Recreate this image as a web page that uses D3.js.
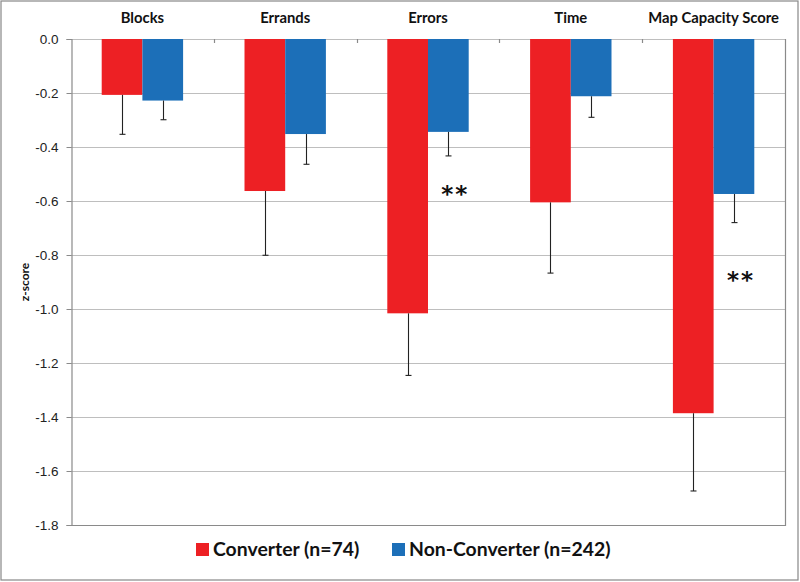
<!DOCTYPE html>
<html><head><meta charset="utf-8">
<script src="https://cdn.jsdelivr.net/npm/d3@7"></script>
<style>body{margin:0;background:#fff}svg{display:block}text{font-family:Lato,"Open Sans",sans-serif}</style>
</head><body>
<script>
const categories = ["Blocks","Errands","Errors","Time","Map Capacity Score"];
const seriesNames = ["Converter (n=74)","Non-Converter (n=242)"];
const converter = [-0.207,-0.563,-1.016,-0.605,-1.386];
const converterErr = [0.146,0.238,0.230,0.262,0.288];
const nonConverter = [-0.228,-0.352,-0.344,-0.212,-0.574];
const nonConverterErr = [0.071,0.112,0.089,0.078,0.106];
const significance = ["","","**","","**"];
const significanceLevel = [null,null,-0.56,null,-0.878];
const yTicks = [0,-0.2,-0.4,-0.6,-0.8,-1.0,-1.2,-1.4,-1.6,-1.8];
const colors = ["#ED2024","#1C6FB8"];

const W=800,H=582;
const L=71,R=785,T=39,B=525;
const svg=d3.select("body").append("svg").attr("width",W).attr("height",H);
svg.append("rect").attr("x",1).attr("y",1).attr("width",797).attr("height",579).attr("fill","#fff").attr("stroke","#888").attr("stroke-width",1.2);

const y=d3.scaleLinear().domain([-1.8,0]).range([B,T]);
const x0=d3.scaleBand().domain(categories).range([L,R]).paddingInner(0.43).paddingOuter(0.215);
const x1=d3.scaleBand().domain([0,1]).range([0,x0.bandwidth()]);
const xc=d3.scaleBand().domain(categories).range([L,R]);

// gridlines
svg.append("g").selectAll("line").data(yTicks).join("line")
  .attr("x1",L).attr("x2",R).attr("y1",d=>Math.round(y(d))+0.5).attr("y2",d=>Math.round(y(d))+0.5)
  .attr("stroke","#BEBEBE").attr("stroke-width",1.2);
// plot border right/bottom
svg.append("path").attr("d",`M${L},${B+0.5}H${R+0.5}V${T}`).attr("fill","none").attr("stroke","#8a8a8a").attr("stroke-width",1.2);

// y axis
const ya=svg.append("g").attr("transform",`translate(${L+0.5},0)`)
  .call(d3.axisLeft(y).tickValues(yTicks).tickFormat(d3.format(".1f")).tickSize(5).tickPadding(8));
ya.select(".domain").attr("stroke","#8a8a8a").attr("stroke-width",1.2);
ya.selectAll(".tick line").attr("stroke","#8a8a8a");
ya.selectAll(".tick text").attr("font-size",13.5).attr("fill","#222").style("font-family","'Liberation Sans',Arial,sans-serif")
  .text(d=>d===0?"0.0":d3.format(".1f")(d).replace("−","-"));

// category ticks at top (zero line)
svg.append("g").selectAll("line").data(categories.slice(1)).join("line")
  .attr("x1",d=>Math.round(xc(d))+0.5).attr("x2",d=>Math.round(xc(d))+0.5)
  .attr("y1",y(0)).attr("y2",y(0)+4).attr("stroke","#8a8a8a").attr("stroke-width",1.2);

// category labels
svg.append("g").selectAll("text").data(categories).join("text")
  .attr("x",d=>xc(d)+xc.bandwidth()/2).attr("y",23).attr("text-anchor","middle")
  .attr("font-size",14.8).attr("font-weight","bold").attr("fill","#111").text(d=>d);

// bars
const series=[converter,nonConverter];
const errs=[converterErr,nonConverterErr];
series.forEach((vals,si)=>{
  const g=svg.append("g");
  g.selectAll("rect").data(vals).join("rect")
    .attr("x",(d,i)=>x0(categories[i])+x1(si)).attr("width",x1.bandwidth())
    .attr("y",y(0)).attr("height",d=>y(d)-y(0))
    .attr("fill",colors[si]);
  const eg=svg.append("g").attr("stroke","#222").attr("stroke-width",1.1);
  vals.forEach((d,i)=>{
    const cx=Math.round(x0(categories[i])+x1(si)+x1.bandwidth()/2)+0.5;
    const e=d-errs[si][i];
    eg.append("line").attr("x1",cx).attr("x2",cx).attr("y1",y(d)).attr("y2",y(e));
    eg.append("line").attr("x1",cx-3).attr("x2",cx+3).attr("y1",y(e)).attr("y2",y(e));
  });
});

// significance markers
svg.append("g").selectAll("text").data(categories.filter((d,i)=>significance[i])).join("text")
  .attr("x",d=>x0(d)+x1(1)+x1.bandwidth()/2+7)
  .attr("y",d=>y(significanceLevel[categories.indexOf(d)])+12)
  .attr("text-anchor","middle").attr("font-size",23).attr("font-weight","bold").attr("fill","#111")
  .style("font-family","'DejaVu Sans',sans-serif").attr("letter-spacing",2)
  .text(d=>significance[categories.indexOf(d)]);

// y label
svg.append("text").attr("transform",`translate(29,${(T+B)/2}) rotate(-90)`).attr("text-anchor","middle")
  .attr("font-size",12).attr("font-weight","bold").attr("fill","#111").text("z-score");

// legend
const lg=svg.append("g");
const legX=[196,392];
seriesNames.forEach((n,i)=>{
  lg.append("rect").attr("x",legX[i]).attr("y",543).attr("width",13).attr("height",13).attr("fill",colors[i]);
  lg.append("text").attr("x",legX[i]+17).attr("y",556).attr("font-size",19.4).attr("font-weight","bold").attr("fill","#111").text(n);
});
</script>
</body></html>
